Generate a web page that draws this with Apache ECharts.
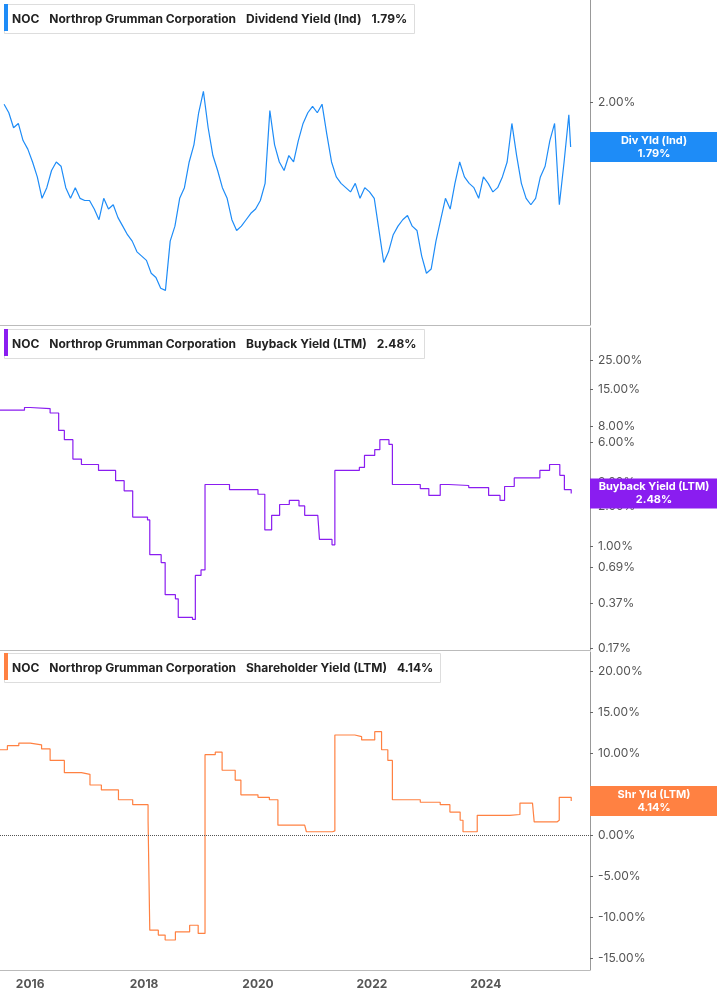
<!DOCTYPE html>
<html><head><meta charset="utf-8">
<script src="https://cdn.jsdelivr.net/npm/echarts@6/dist/echarts.min.js"></script>
<style>html,body{margin:0;padding:0;background:#fff}#c{width:717px;height:1005px}</style>
</head><body><div id="c"></div>
<script>
// Dividend yield, monthly from 2015-07
const divStart = [2015, 7];
const divVals = [1.99,1.95,1.88,1.90,1.82,1.78,
1.72,1.65,1.55,1.60,1.68,1.72,1.70,1.60,1.55,1.60,1.55,1.54,
1.54,1.50,1.45,1.55,1.50,1.52,1.46,1.42,1.38,1.35,1.30,1.28,
1.26,1.20,1.18,1.13,1.12,1.35,1.42,1.55,1.60,1.72,1.80,1.95,
2.05,1.88,1.75,1.68,1.60,1.55,1.45,1.40,1.42,1.45,1.48,1.50,
1.54,1.62,1.96,1.80,1.72,1.68,1.75,1.72,1.82,1.90,1.95,1.98,
1.95,1.99,1.85,1.72,1.65,1.62,1.60,1.58,1.62,1.55,1.60,1.58,
1.55,1.40,1.25,1.30,1.38,1.42,1.45,1.47,1.42,1.40,1.28,1.20,
1.22,1.35,1.45,1.55,1.50,1.62,1.72,1.65,1.62,1.60,1.55,1.65,
1.62,1.58,1.60,1.65,1.72,1.90,1.75,1.62,1.55,1.52,1.55,1.65,
1.70,1.82,1.90,1.52,1.72,1.94];
const divLast = [2025.49, 1.79];
// Buyback yield (LTM), [decimal year, %]
const bbYears = [2015.47,2015.9,2016.0,2016.35,2016.5,2016.6,2016.75,2016.9,2017.2,2017.5,2017.65,2017.8,2018.06,2018.1,2018.3,2018.37,2018.55,2018.6,2018.85,2018.9,2019.0,2019.07,2019.5,2020.0,2020.12,2020.24,2020.38,2020.55,2020.72,2020.82,2021.05,2021.08,2021.3,2021.35,2021.78,2021.87,2022.05,2022.14,2022.3,2022.36,2022.85,2023.0,2023.2,2023.35,2023.7,2024.05,2024.25,2024.33,2024.5,2024.95,2025.12,2025.3,2025.38,2025.5];
const bbVals = [10.5,11.0,10.8,10.0,7.4,6.3,4.5,4.1,3.7,3.1,2.6,1.65,1.57,0.86,0.75,0.43,0.40,0.29,0.28,0.60,0.66,2.9,2.65,2.45,1.32,1.7,2.05,2.2,2.0,1.7,1.7,1.12,1.02,3.7,3.9,4.8,5.3,6.3,5.8,2.9,2.7,2.4,2.9,2.85,2.75,2.4,2.2,2.8,3.25,3.7,4.1,3.4,2.65,2.48];
// Shareholder yield (LTM)
const shYears = [2015.47,2015.6,2015.8,2016.0,2016.2,2016.35,2016.6,2016.9,2017.05,2017.25,2017.55,2017.8,2018.07,2018.1,2018.25,2018.37,2018.55,2018.8,2018.95,2019.07,2019.25,2019.37,2019.6,2019.7,2020.0,2020.2,2020.35,2020.82,2020.85,2021.31,2021.35,2021.7,2021.82,2022.05,2022.17,2022.28,2022.36,2022.85,2023.2,2023.37,2023.55,2023.6,2023.85,2024.42,2024.6,2024.82,2024.85,2025.25,2025.29,2025.5];
const shVals = [10.4,10.9,11.2,11.0,10.5,9.1,7.6,7.4,6.1,5.5,4.3,3.7,1.8,-11.6,-12.2,-12.8,-11.8,-11.0,-12.0,9.8,10.1,7.9,6.7,4.9,4.6,4.3,1.2,1.1,0.4,0.5,12.2,12.0,11.6,12.6,10.4,9.1,4.3,4.0,3.7,2.8,1.8,0.4,2.4,2.5,3.9,3.7,1.6,1.8,4.6,4.14];
const divTicks = [2.00];
const bbTicks = [25,15,8,6,3,2,1,0.69,0.37,0.17];
const shTicks = [20,15,10,5,0,-5,-10,-15];
const yearLabels = [2016,2018,2020,2022,2024];

const divData = divVals.map((v,i)=>[divStart[0]+(divStart[1]-1+i+0.5)/12,v]);
divData.push(divLast);
const bbData = bbYears.map((d,i)=>[d,bbVals[i]]);
const shData = shYears.map((d,i)=>[d,shVals[i]]);

const C1='#1e8cf7', C2='#8a1df0', C3='#ff8142';
const xMin=2015.47, xMax=2025.83;
const grids=[{left:0,right:127,top:0,height:325},{left:0,right:127,top:328,height:322},{left:0,right:127,top:652,height:318}];
function xAx(i){return {type:'value',gridIndex:i,min:xMin,max:xMax,
 axisLine:{show:true,onZero:false,lineStyle:{color:'#bbb'}},splitLine:{show:false},
 axisTick:{show:false},
 axisLabel:{show:i===2,customValues:yearLabels,formatter:v=>String(Math.round(v)),color:'#555',fontWeight:'bold',fontSize:12,fontFamily:'Inter'}};}
function yAx(i,type,min,max,ticks){return {type:type,gridIndex:i,position:'right',min:min,max:max,
 axisLine:{show:true,lineStyle:{color:'#999'}},splitLine:{show:false},
 axisTick:{show:true,length:3,customValues:ticks,lineStyle:{color:'#666'}},
 axisLabel:{customValues:ticks,formatter:v=>v.toFixed(2)+'%',color:'#555',fontSize:12,fontFamily:'Inter',margin:8}};}
function endBox(i,v,txt,color){return {type:'scatter',xAxisIndex:i,yAxisIndex:i,clip:false,silent:true,z:10,symbolSize:0,
 itemStyle:{opacity:1},
 data:[[xMax,v]],label:{show:true,position:'inside',offset:[64,0],opacity:1,formatter:txt+'\n'+v.toFixed(2)+'%',backgroundColor:color,color:'#fff',fontWeight:'bold',fontSize:11,fontFamily:'Inter',lineHeight:13,width:120,align:'center',padding:[2,4]}};}
function header(top,label,val){return {left:4,top:top,padding:[6,8,6,8],borderColor:'#ddd',borderWidth:1,backgroundColor:'#fff',
 text:'{a|NOC}  {a|Northrop Grumman Corporation}  {c|'+label+'}  {a|'+val+'}',
 textStyle:{rich:{a:{fontWeight:'bold',fontSize:12,color:'#222',fontFamily:'Inter'},c:{fontSize:12,color:'#222',fontFamily:'Inter'}}}};}

const chart=echarts.init(document.getElementById('c'),null,{renderer:'canvas'});
chart.setOption({
 animation:false,
 title:[header(4,'Dividend Yield (Ind)','1.79%'),header(329,'Buyback Yield (LTM)','2.48%'),header(653,'Shareholder Yield (LTM)','4.14%')],
 graphic:[{type:'rect',z:100,shape:{x:4,y:4,width:4,height:27},style:{fill:C1}},
  {type:'rect',z:100,shape:{x:4,y:329,width:4,height:27},style:{fill:C2}},
  {type:'rect',z:100,shape:{x:4,y:653,width:4,height:27},style:{fill:C3}}],
 grid:grids,
 xAxis:[xAx(0),xAx(1),xAx(2)],
 yAxis:[yAx(0,'value',0.958,2.477,divTicks),yAx(1,'log',0.165,43.6,bbTicks),yAx(2,'value',-16.46,22.32,shTicks)],
 series:[
  {type:'line',xAxisIndex:0,yAxisIndex:0,data:divData,symbol:'none',lineStyle:{color:C1,width:1.2}},
  {type:'line',xAxisIndex:1,yAxisIndex:1,data:bbData,step:'end',symbol:'none',lineStyle:{color:C2,width:1.2}},
  {type:'line',xAxisIndex:2,yAxisIndex:2,data:shData,step:'end',symbol:'none',lineStyle:{color:C3,width:1.2},
   markLine:{symbol:'none',silent:true,label:{show:false},lineStyle:{color:'#555',type:'dotted',width:1},data:[{yAxis:0}]}},
  endBox(0,1.79,'Div Yld (Ind)',C1),
  endBox(1,2.48,'Buyback Yield (LTM)',C2),
  endBox(2,4.14,'Shr Yld (LTM)',C3)
 ]
});
</script></body></html>
